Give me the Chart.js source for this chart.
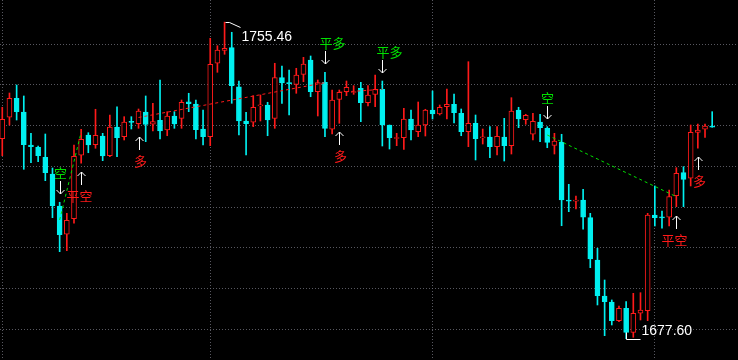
<!DOCTYPE html>
<html>
<head>
<meta charset="utf-8">
<script src="https://cdn.jsdelivr.net/npm/chart.js@4.4.1/dist/chart.umd.min.js"></script>
<style>
  html, body { margin: 0; padding: 0; background: #000; }
  #box { width: 738px; height: 360px; }
</style>
</head>
<body>
<div id="box"><canvas id="grafico"></canvas></div>
<script>
// datos de las velas (índice = posición de la vela)
var apertura = [
  1726.80, 1732.06, 1736.73, 1733.36, 1725.25, 1724.68, 1722.22, 1718.12, 1710.25, 1703.29,
  1707.13, 1722.72, 1727.71, 1725.32, 1727.46, 1722.62, 1729.67, 1727.29, 1730.90, 1730.48,
  1733.36, 1730.34, 1731.32, 1728.94, 1732.38, 1731.81, 1735.89, 1735.33, 1729.18, 1727.29,
  1745.34, 1748.53, 1749.17, 1739.58, 1731.15, 1730.83, 1734.85, 1735.08, 1731.81, 1741.80,
  1740.57, 1740.17, 1742.63, 1746.15, 1738.35, 1740.66, 1729.11, 1736.48, 1738.35, 1738.15,
  1739.19, 1735.65, 1737.71, 1738.94, 1730.16, 1726.85, 1727.04, 1731.64, 1728.52, 1730.16,
  1733.85, 1732.87, 1734.66, 1735.25, 1733.04, 1728.52, 1730.58, 1726.99, 1727.21, 1724.83,
  1727.21, 1725.08, 1733.85, 1731.47, 1727.88, 1730.90, 1729.35, 1725.17, 1725.91, 1711.55,
  1711.45, 1711.72, 1707.37, 1696.97, 1688.12, 1686.64, 1682.05, 1685.10, 1679.19, 1683.87,
  1684.50, 1708.04, 1707.42, 1707.47, 1712.78, 1718.44, 1717.06, 1728.37, 1729.11, 1729.92
];
var maximo = [
  1734.52, 1738.03, 1740.00, 1737.30, 1728.12, 1725.00, 1727.95, 1719.59, 1711.16, 1708.45,
  1725.25, 1729.11, 1728.27, 1734.03, 1728.12, 1732.62, 1734.66, 1732.21, 1732.21, 1734.10,
  1737.30, 1735.50, 1741.23, 1733.44, 1733.44, 1736.31, 1737.96, 1736.31, 1733.85, 1751.48,
  1749.66, 1755.46, 1752.96, 1740.98, 1733.29, 1737.37, 1737.54, 1735.75, 1745.34, 1744.67,
  1743.69, 1744.11, 1746.81, 1747.13, 1741.23, 1743.12, 1738.77, 1738.77, 1740.98, 1739.83,
  1740.66, 1739.83, 1742.46, 1740.98, 1730.16, 1728.12, 1734.27, 1733.85, 1735.82, 1734.03,
  1738.52, 1735.08, 1739.02, 1737.79, 1734.10, 1745.73, 1732.62, 1729.18, 1729.75, 1729.75,
  1731.81, 1736.88, 1734.52, 1732.80, 1733.04, 1732.80, 1729.75, 1728.12, 1727.88, 1715.58,
  1712.71, 1714.36, 1708.45, 1699.85, 1692.05, 1687.14, 1685.66, 1686.72, 1688.78, 1688.93,
  1708.45, 1715.17, 1709.02, 1714.18, 1719.67, 1719.91, 1730.16, 1730.41, 1730.41, 1733.44
];
var minimo = [
  1722.62, 1730.16, 1731.39, 1719.27, 1720.90, 1721.14, 1716.47, 1707.37, 1699.01, 1699.26,
  1706.00, 1720.75, 1723.35, 1724.44, 1721.39, 1722.37, 1722.37, 1726.48, 1729.18, 1729.35,
  1726.06, 1728.69, 1726.72, 1727.53, 1729.35, 1729.35, 1733.44, 1726.72, 1725.25, 1725.08,
  1743.12, 1747.55, 1735.50, 1727.71, 1722.79, 1729.75, 1731.15, 1727.53, 1729.35, 1735.50,
  1732.62, 1737.96, 1740.81, 1737.12, 1732.38, 1727.29, 1727.95, 1730.58, 1737.37, 1737.71,
  1730.98, 1734.84, 1734.66, 1725.00, 1724.26, 1725.08, 1724.19, 1726.48, 1727.29, 1727.46,
  1731.64, 1732.62, 1731.64, 1730.66, 1727.53, 1724.83, 1721.56, 1725.49, 1722.12, 1722.79,
  1721.31, 1723.03, 1729.50, 1730.34, 1726.48, 1726.06, 1724.58, 1723.03, 1705.40, 1708.85,
  1709.51, 1704.52, 1695.08, 1685.91, 1678.36, 1680.99, 1681.80, 1677.60, 1677.96, 1682.22,
  1682.05, 1705.33, 1704.77, 1705.33, 1710.08, 1710.08, 1715.17, 1724.44, 1727.14, 1729.60
];
var cierre = [
  1731.57, 1736.73, 1733.44, 1725.32, 1724.83, 1722.62, 1718.44, 1710.32, 1703.19, 1706.73,
  1722.47, 1726.65, 1725.25, 1727.63, 1722.54, 1729.67, 1727.04, 1730.90, 1730.80, 1733.61,
  1730.29, 1730.98, 1728.69, 1732.38, 1730.41, 1735.75, 1735.40, 1729.01, 1727.29, 1745.09,
  1748.61, 1749.02, 1739.83, 1731.15, 1730.48, 1734.52, 1734.95, 1731.39, 1741.80, 1740.49,
  1740.32, 1742.46, 1745.16, 1738.35, 1740.57, 1729.35, 1736.31, 1738.21, 1739.43, 1738.25,
  1735.65, 1737.54, 1738.94, 1730.16, 1727.04, 1726.95, 1731.64, 1728.94, 1730.16, 1733.85,
  1732.87, 1734.52, 1735.25, 1733.19, 1728.52, 1730.58, 1726.80, 1727.09, 1724.83, 1727.39,
  1725.08, 1733.61, 1731.64, 1732.55, 1731.08, 1729.50, 1725.91, 1726.23, 1711.72, 1711.45,
  1711.55, 1707.47, 1697.22, 1688.19, 1686.72, 1682.05, 1685.10, 1679.19, 1683.87, 1684.68,
  1708.04, 1707.37, 1707.32, 1712.54, 1718.29, 1716.81, 1728.37, 1728.94, 1729.92, 1729.60
];

// líneas horizontales de precio y separadores de sesión
var nivelesPrecio = [1680, 1690, 1700, 1710, 1720, 1730, 1740, 1750];
var inicioSesion = [0, 29, 60, 91];

// señales de trading
var senalIdx = [8, 11, 19, 45, 47, 53, 76, 94, 97];
var senalTipo = ['空', '平空', '多', '平多', '多', '平多', '空', '平空', '多'];

// operaciones (línea punteada entre entrada y salida)
var opDesdeIdx = [8, 19, 47, 76];
var opDesdePrecio = [1706.81, 1732.01, 1738.21, 1727.71];
var opHastaIdx = [11, 45, 53, 94];
var opHastaPrecio = [1728.40, 1740.57, 1738.94, 1712.54];
var opLado = ['空', '多', '多', '空'];

var ROJO = '#ff1a1a';
var CIAN = '#00f0f0';
var VERDE = '#00e000';

var estiloSenal = {
   '空':  { color: VERDE, abajo: true,  dx: 0 },
   '平多': { color: VERDE, abajo: true,  dx: 7 },
   '多':  { color: ROJO,  abajo: false, dx: 1 },
   '平空': { color: ROJO,  abajo: false, dx: -2 }
};

var sube = apertura.map((o, i) => cierre[i] >= o);
var colorVela = sube.map(s => s ? ROJO : CIAN);

var mechas = apertura.map((o, i) => ({ x: i, y: [minimo[i], maximo[i]] }));
var cuerpos = apertura.map((o, i) => ({ x: i, y: [Math.min(o, cierre[i]), Math.max(o, cierre[i])] }));

var datasets = [{
   type: 'bar',
   data: cuerpos,
   backgroundColor: sube.map(s => s ? '#000000' : CIAN),
   borderColor: colorVela,
   borderWidth: 1,
   borderSkipped: false,
   barThickness: 5,
   minBarLength: 1,
   grouped: false,
   order: 1
}, {
   type: 'bar',
   data: mechas,
   backgroundColor: colorVela,
   borderWidth: 0,
   barThickness: 1,
   grouped: false,
   order: 2
}];

for (var k = 0; k < opDesdeIdx.length; k++) {
   datasets.push({
      type: 'line',
      data: [{ x: opDesdeIdx[k], y: opDesdePrecio[k] }, { x: opHastaIdx[k], y: opHastaPrecio[k] }],
      borderColor: opLado[k] === '多' ? ROJO : VERDE,
      borderWidth: 1,
      borderDash: [3, 3],
      pointRadius: 0,
      order: 0
   });
}

function flecha(ctx, x, desde, hasta) {
   var d = hasta > desde ? -1 : 1;
   ctx.beginPath();
   ctx.moveTo(x, desde);
   ctx.lineTo(x, hasta);
   ctx.moveTo(x - 4, hasta + 4 * d);
   ctx.lineTo(x, hasta);
   ctx.lineTo(x + 4, hasta + 4 * d);
   ctx.stroke();
}

var anotaciones = {
   id: 'anotaciones',
   afterDatasetsDraw(chart) {
      var ctx = chart.ctx;
      var xs = chart.scales.x, ys = chart.scales.y;
      ctx.save();
      ctx.strokeStyle = '#ffffff';
      ctx.lineWidth = 1;
      ctx.textAlign = 'center';
      ctx.textBaseline = 'middle';
      ctx.font = '13px "Noto Sans CJK SC"';
      senalIdx.forEach(function (idx, k) {
         var est = estiloSenal[senalTipo[k]];
         var px = Math.round(xs.getPixelForValue(idx)) + 0.5;
         if (est.abajo) {
            var punta = Math.round(ys.getPixelForValue(maximo[idx])) - 8;
            flecha(ctx, px, punta - 13, punta);
            ctx.fillStyle = est.color;
            ctx.fillText(senalTipo[k], px + est.dx, punta - 21);
         } else {
            var punta2 = Math.round(ys.getPixelForValue(minimo[idx])) + 9;
            flecha(ctx, px, punta2 + 13, punta2);
            ctx.fillStyle = est.color;
            ctx.fillText(senalTipo[k], px + est.dx, punta2 + 24);
         }
      });

      // máximo y mínimo del periodo
      var iMax = maximo.indexOf(Math.max.apply(null, maximo));
      var iMin = minimo.indexOf(Math.min.apply(null, minimo));
      ctx.font = '14px "Liberation Sans"';
      ctx.textAlign = 'left';
      ctx.fillStyle = '#ffffff';

      var hx = Math.round(xs.getPixelForValue(iMax)) + 0.5;
      var hy = Math.round(ys.getPixelForValue(maximo[iMax])) + 0.5;
      ctx.beginPath();
      ctx.moveTo(hx, hy);
      ctx.lineTo(hx + 4, hy);
      ctx.lineTo(hx + 15, hy + 5);
      ctx.stroke();
      ctx.fillText(maximo[iMax].toFixed(2), hx + 16, hy + 15);

      var lx = Math.round(xs.getPixelForValue(iMin)) + 0.5;
      var ly = Math.round(ys.getPixelForValue(minimo[iMin])) + 0.5;
      ctx.beginPath();
      ctx.moveTo(lx, ly - 7);
      ctx.lineTo(lx, ly);
      ctx.lineTo(lx + 14, ly);
      ctx.stroke();
      ctx.fillText(minimo[iMin].toFixed(2), lx + 15, ly - 8);
      ctx.restore();
   }
};

var fondo = {
   id: 'fondo',
   beforeDraw(chart) {
      var ctx = chart.ctx;
      ctx.save();
      ctx.fillStyle = '#000000';
      ctx.fillRect(0, 0, chart.width, chart.height);
      ctx.restore();
   }
};

new Chart(document.getElementById('grafico').getContext('2d'), {
   data: { datasets: datasets },
   options: {
      responsive: true,
      maintainAspectRatio: false,
      animation: false,
      events: [],
      layout: { padding: 0 },
      scales: {
         x: {
            type: 'linear',
            min: -0.318,
            max: 102.6,
            offset: false,
            grid: { color: 'rgba(110, 110, 120, 0.8)', drawTicks: false, offset: false },
            border: { display: false, dash: [1, 2] },
            ticks: { display: false },
            afterBuildTicks: s => { s.ticks = inicioSesion.map(v => ({ value: v })); },
            afterFit: s => { s.height = 0; }
         },
         y: {
            type: 'linear',
            min: 1672.38,
            max: 1760.90,
            grid: { color: 'rgba(110, 110, 120, 0.8)', drawTicks: false },
            border: { display: false, dash: [1, 2] },
            ticks: { display: false },
            afterBuildTicks: s => { s.ticks = nivelesPrecio.map(v => ({ value: v })); },
            afterFit: s => { s.width = 0; }
         }
      },
      plugins: {
         legend: { display: false },
         tooltip: { enabled: false }
      }
   },
   plugins: [fondo, anotaciones]
});
</script>
</body>
</html>
